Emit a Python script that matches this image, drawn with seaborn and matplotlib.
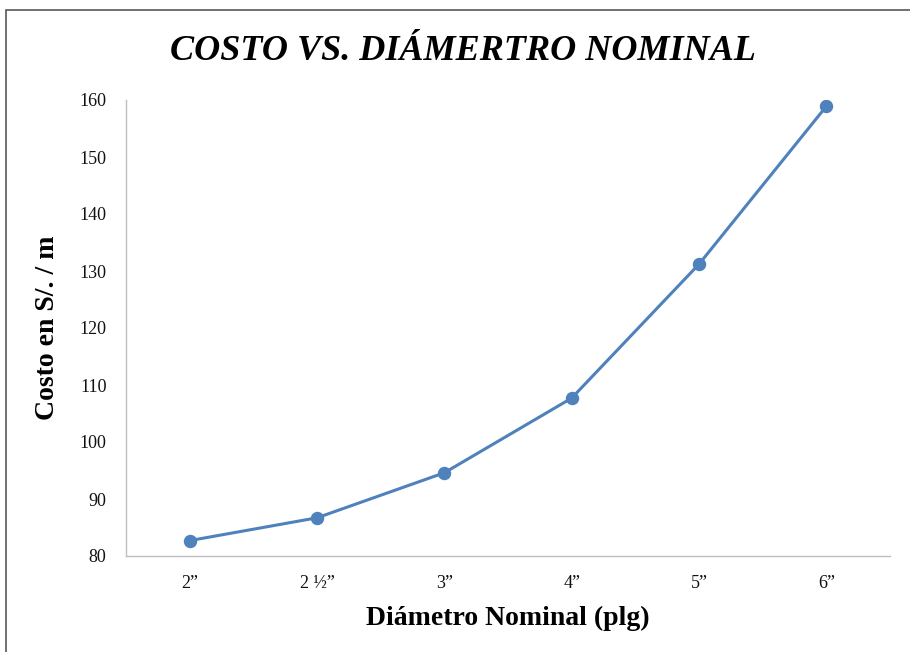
import matplotlib
matplotlib.use("Agg")
import matplotlib.pyplot as plt
import seaborn as sns
import pandas as pd
from matplotlib.patches import Rectangle

# data
diametros = ["2\u201d", "2 \u00bd\u201d", "3\u201d", "4\u201d", "5\u201d", "6\u201d"]
costos = [82.7, 86.7, 94.6, 107.7, 131.2, 158.9]

df = pd.DataFrame({"diametro": diametros, "costo": costos})

sns.set_theme(style="white")
plt.rcParams["font.family"] = ["Liberation Serif", "DejaVu Serif"]

fig = plt.figure(figsize=(9.1, 6.52), dpi=100)
ax = fig.add_axes([126 / 910, 1 - 556 / 652, (890 - 126) / 910, (556 - 100) / 652])

sns.pointplot(data=df, x="diametro", y="costo", color="#4F81BD",
              markers="o", markersize=8, linewidth=2.2, ax=ax)

ax.set_xlim(-0.5, len(diametros) - 0.5)
ax.set_ylim(80, 160)
ax.set_yticks(range(80, 161, 10))
ax.tick_params(axis="both", length=0, labelsize=13, colors="#111111")
ax.tick_params(axis="x", pad=14)
ax.tick_params(axis="y", pad=14)

for side in ["top", "right"]:
    ax.spines[side].set_visible(False)
for side in ["left", "bottom"]:
    ax.spines[side].set_color("#BFBFBF")
    ax.spines[side].set_linewidth(1.0)

ax.set_xlabel("Diámetro Nominal (plg)", fontsize=20, fontweight="bold", labelpad=10, color="black")
ax.set_ylabel("Costo en S/. / m", fontsize=20, fontweight="bold", labelpad=14, color="black")

fig.text(463 / 910, 1 - 51 / 652, "COSTO VS. DIÁMERTRO NOMINAL", ha="center", va="center",
         fontsize=26, fontweight="bold", fontstyle="italic", color="black")

# outer chart frame (top and left edges visible in the reference)
fig.patches.append(Rectangle((6 / 910, -0.05), 1.0, 1 - 10 / 652 + 0.05,
                             transform=fig.transFigure, fill=False,
                             edgecolor="#595959", linewidth=1.2))

fig.savefig("out.png", dpi=100)
